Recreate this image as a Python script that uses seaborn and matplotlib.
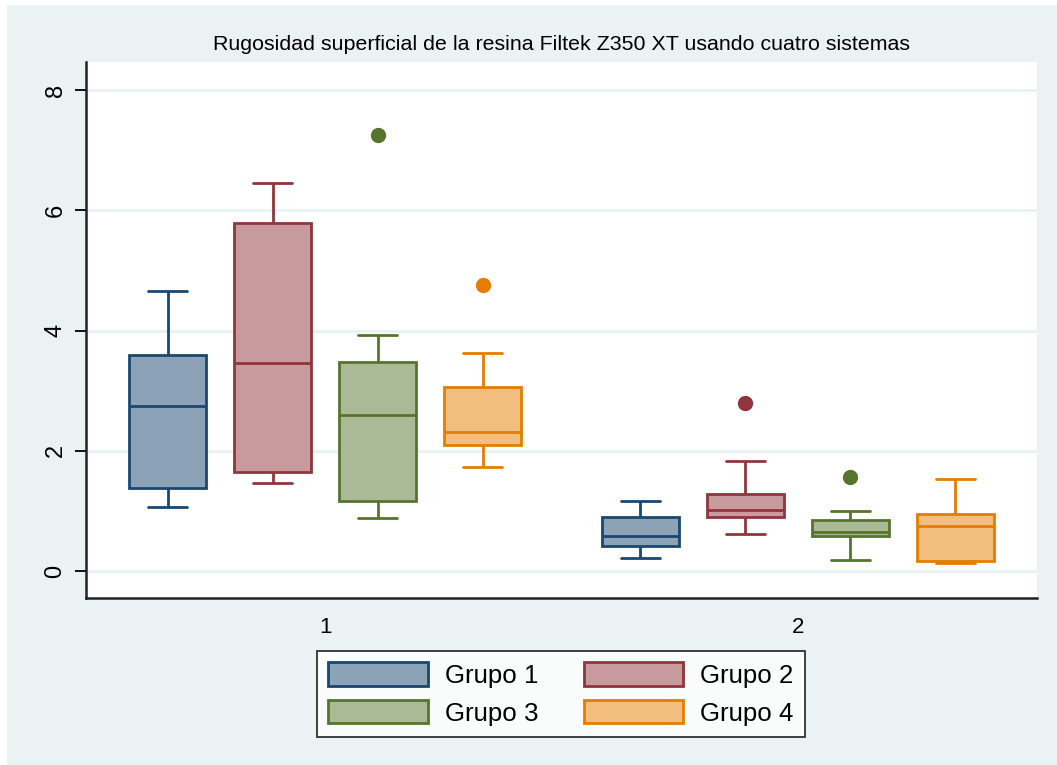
import numpy as np
import pandas as pd
import matplotlib
matplotlib.use("Agg")
import matplotlib.pyplot as plt
from matplotlib.patches import Patch, Rectangle
import seaborn as sns

# Five-number summaries of surface roughness per system (Grupo) and measurement (1, 2)
grupos = ["Grupo 1", "Grupo 2", "Grupo 3", "Grupo 4"]
mediciones = ["1", "2"]

# values ordered as [medicion 1, medicion 2]
minimos = {"Grupo 1": [1.07, 0.21], "Grupo 2": [1.46, 0.61],
           "Grupo 3": [0.88, 0.18], "Grupo 4": [1.73, 0.14]}
q1 = {"Grupo 1": [1.375, 0.42], "Grupo 2": [1.65, 0.89],
      "Grupo 3": [1.16, 0.58], "Grupo 4": [2.09, 0.17]}
medianas = {"Grupo 1": [2.75, 0.59], "Grupo 2": [3.46, 1.02],
            "Grupo 3": [2.60, 0.65], "Grupo 4": [2.31, 0.74]}
q3 = {"Grupo 1": [3.59, 0.90], "Grupo 2": [5.79, 1.28],
      "Grupo 3": [3.47, 0.85], "Grupo 4": [3.06, 0.95]}
maximos = {"Grupo 1": [4.66, 1.16], "Grupo 2": [6.45, 1.83],
           "Grupo 3": [3.93, 0.99], "Grupo 4": [3.63, 1.53]}
atipicos = {"Grupo 1": [None, None], "Grupo 2": [None, 2.79],
            "Grupo 3": [7.26, 1.57], "Grupo 4": [4.76, None]}

titulo = "Rugosidad superficial de la resina Filtek Z350 XT usando cuatro sistemas"
y_ticks = [0, 2, 4, 6, 8]

color_borde = {"Grupo 1": "#1a476f", "Grupo 2": "#90353b",
               "Grupo 3": "#55752f", "Grupo 4": "#e37e00"}
color_relleno = {"Grupo 1": "#8ca3b7", "Grupo 2": "#c79a9d",
                 "Grupo 3": "#aaba97", "Grupo 4": "#f1be7f"}
fondo = "#eaf2f3"

# Long-form observations whose quartiles reproduce each summary
filas = []
for g in grupos:
    for i, m in enumerate(mediciones):
        lo, a, med, b, hi, out = (minimos[g][i], q1[g][i], medianas[g][i],
                                  q3[g][i], maximos[g][i], atipicos[g][i])
        if out is None:
            obs = [lo, a, med, b, hi]
        else:
            obs = [lo, a, a, med, med, b, b, hi, out]
        filas += [(g, m, v) for v in obs]
df = pd.DataFrame(filas, columns=["grupo", "medicion", "rugosidad"])

sns.set_theme(style="white")
plt.rcParams["font.family"] = ["Liberation Sans", "DejaVu Sans"]
plt.rcParams["text.color"] = "black"
plt.rcParams["xtick.color"] = "black"
plt.rcParams["ytick.color"] = "black"

W, H = 1057, 765
fig = plt.figure(figsize=(W / 100, H / 100), dpi=100, facecolor="white")
fig.add_artist(Rectangle((7 / W, 0), 1, (H - 5) / H, transform=fig.transFigure,
                         facecolor=fondo, edgecolor="none", zorder=-10))
ax = fig.add_axes([86 / W, 1 - 598 / H, (1037 - 86) / W, (598 - 62) / H])
ax.set_facecolor("white")

for g in grupos:
    sns.boxplot(data=df[df["grupo"] == g], x="medicion", y="rugosidad",
                hue="grupo", order=mediciones, hue_order=grupos,
                palette=color_relleno, saturation=1,
                linecolor=color_borde[g], linewidth=2,
                width=0.889, gap=0.266, dodge=True, whis=1.5,
                flierprops=dict(marker="o", markersize=10,
                                markerfacecolor=color_borde[g],
                                markeredgecolor=color_borde[g]),
                legend=False, ax=ax)

ax.set_xlim(-0.506, 1.506)
ax.set_ylim(-0.45, 8.47)
ax.set_yticks(y_ticks)
ax.set_yticklabels([str(t) for t in y_ticks], rotation=90, va="center", fontsize=17)
ax.tick_params(axis="y", length=8, width=1.3, color="black", pad=6, left=True)
ax.tick_params(axis="x", length=0, pad=14, labelsize=16)
ax.yaxis.grid(True, color=fondo, linewidth=2)
ax.set_axisbelow(True)
ax.set_xlabel("")
ax.set_ylabel("")
for s in ["top", "right"]:
    ax.spines[s].set_visible(False)
for s in ["left", "bottom"]:
    ax.spines[s].set_color("#222222")
    ax.spines[s].set_linewidth(1.8)

ax.set_title(titulo, fontsize=15.4, pad=9, color="black")

# legend filled row by row: Grupo 1, Grupo 2 / Grupo 3, Grupo 4
orden_leyenda = ["Grupo 1", "Grupo 3", "Grupo 2", "Grupo 4"]
handles = [Patch(facecolor=color_relleno[g], edgecolor=color_borde[g], linewidth=2)
           for g in orden_leyenda]
leg = fig.legend(handles, orden_leyenda, loc="center", ncol=2,
                 bbox_to_anchor=(561 / W, 1 - 694 / H), fontsize=18.6,
                 frameon=True, fancybox=False, edgecolor="black",
                 handlelength=3.85, handleheight=1.0, handletextpad=0.66,
                 columnspacing=1.75, labelspacing=0.48, borderpad=0.45)
leg.get_frame().set_linewidth(1.3)
leg.get_frame().set_facecolor("white")

fig.savefig("out.png", dpi=100, facecolor=fig.get_facecolor())
